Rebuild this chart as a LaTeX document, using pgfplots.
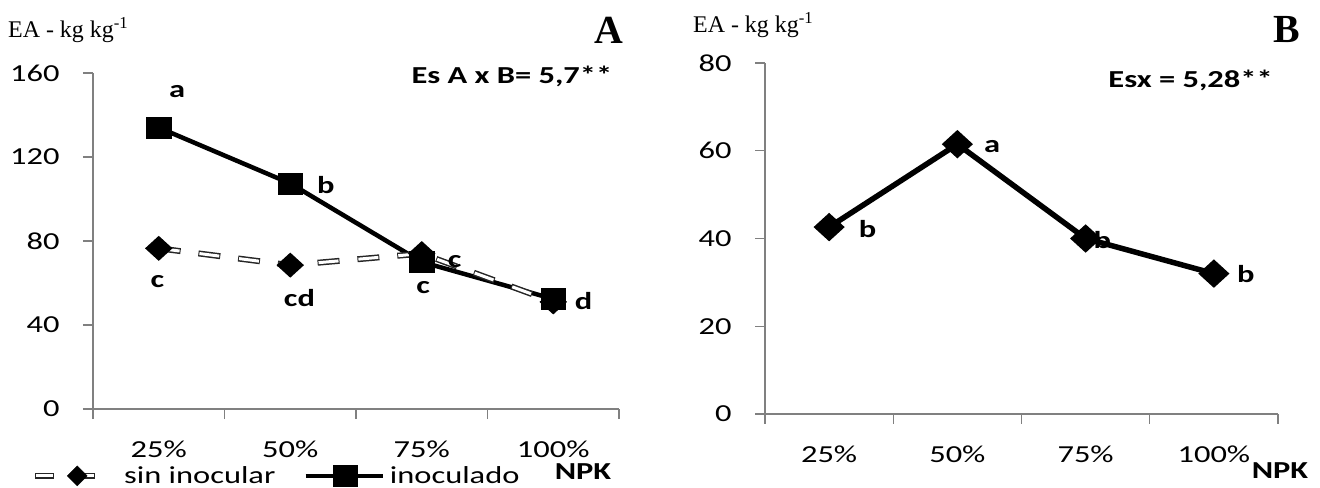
\documentclass[border=0pt]{standalone}
\usepackage{pgfplots}
\pgfplotsset{compat=1.18}
\usepackage{fontspec}
\setmainfont{Carlito}[FakeStretch=1.33]
\newfontfamily\timesf{Liberation Serif}
\newcommand{\fs}{\fontsize{24.5}{29}\selectfont}
\begin{document}
\begin{tikzpicture}
\pgfplotsset{
  excel/.style={
    scale only axis,
    axis x line*=bottom, axis y line*=left,
    axis line style={draw=black!50, line width=1.3bp},
    every tick/.style={draw=black!50, line width=1.3bp},
    tick align=outside,
    major tick length=10bp,
    xmin=0, xmax=4, xtick={0,1,2,3,4},
    xticklabels={25\%,50\%,75\%,100\%},
    x tick label as interval,
    ymin=0,
    tick label style={font=\fs, text=black},
    xticklabel style={yshift=-18bp},
    yticklabel style={xshift=-20bp},
    /pgf/number format/assume math mode=true,
    clip=false,
  }
}
% ---------------- Panel A ----------------
\begin{axis}[excel, at={(93bp,79bp)}, anchor=south west, width=526bp, height=336bp,
  ymax=160, ytick={0,40,80,120,160},
  legend columns=-1,
  legend style={at={(-0.116,-0.199)}, anchor=west, draw=none, fill=none, inner sep=0pt,
    font=\fs, nodes={inner sep=0pt},
    /tikz/column 1/.style={column sep=26bp},
    /tikz/column 2/.style={column sep=28bp},
    /tikz/column 3/.style={column sep=5bp}},
  ]
\addplot[black, line width=4.5bp, forget plot] coordinates {(0.5,134) (1.5,107.4) (2.5,70) (3.5,52.4)};
\addplot[black!85, line width=6bp, dash pattern=on 22bp off 18bp, forget plot] coordinates {(0.5,76.5) (1.5,68.5) (2.5,74) (3.5,51)};
\addplot[white, line width=3bp, dash pattern=on 20bp off 20bp, dash phase=39bp, mark=diamond*, mark size=10.5bp, mark options={solid, draw=black, fill=black, xscale=1.46}, forget plot] coordinates {(0.5,76.5) (1.5,68.5) (2.5,74) (3.5,51)};
\addplot[only marks, mark=square*, mark size=10.5bp, mark options={draw=black, fill=black, xscale=1.18}, forget plot] coordinates {(0.5,134) (1.5,107.4) (2.5,70) (3.5,52.4)};
\addlegendimage{legend image code/.code={
  \draw[black!85, line width=6bp] (0bp,0bp) -- (19bp,0bp);
  \draw[white, line width=3bp] (1bp,0bp) -- (18bp,0bp);
  \draw[black!85, line width=6bp] (48bp,0bp) -- (60bp,0bp);
  \draw[white, line width=3bp] (49bp,0bp) -- (59bp,0bp);
  \fill[black] (42bp,10bp) -- (52bp,0bp) -- (42bp,-10bp) -- (32bp,0bp) -- cycle;
}}
\addlegendentry{sin inocular}
\addlegendimage{legend image code/.code={
  \draw[black, line width=4.5bp] (0bp,0bp) -- (77bp,0bp);
  \fill[black] (27bp,-10.5bp) rectangle (51bp,10.5bp);
}}
\addlegendentry{inoculado}
\node[font=\fs\bfseries] at (axis cs:0.64,151) {a};
\node[font=\fs\bfseries] at (axis cs:1.77,106.7) {b};
\node[font=\fs\bfseries] at (axis cs:0.49,60.5) {c};
\node[font=\fs\bfseries] at (axis cs:1.57,52.9) {cd};
\node[font=\fs\bfseries] at (axis cs:2.51,58) {c};
\node[font=\fs\bfseries] at (axis cs:2.75,70) {c};
\node[font=\fs\bfseries] at (axis cs:3.73,51.4) {d};
\node[font=\fs\bfseries, anchor=east, inner sep=0] at (axis cs:3.95,158.6) {Es A x B= 5,7**};
\end{axis}
% ---------------- Panel B ----------------
\begin{axis}[excel, at={(765bp,74bp)}, anchor=south west, width=513bp, height=351bp,
  ymax=80, ytick={0,20,40,60,80}]
\addplot[black, line width=5.5bp, mark=diamond*, mark size=10.5bp, mark options={solid, xscale=1.46}] coordinates {(0.5,42.6) (1.5,61.5) (2.5,40) (3.5,32)};
\node[font=\fs\bfseries] at (axis cs:1.77,61) {a};
\node[font=\fs\bfseries] at (axis cs:0.8,42.1) {b};
\node[font=\fs\bfseries] at (axis cs:2.63,39.6) {b};
\node[font=\fs\bfseries] at (axis cs:3.75,31.9) {b};
\node[font=\fs\bfseries, anchor=east, inner sep=0] at (axis cs:3.96,76) {Esx = 5,28**};
\end{axis}
% ---------------- texts ----------------
\node[anchor=west, font=\timesf\fontsize{24}{28}\selectfont, inner sep=0] at (8bp,458bp) {EA - kg kg\textsuperscript{-1}};
\node[font=\timesf\fontsize{40}{44}\selectfont\bfseries, inner sep=0] at (609bp,458bp) {A};
\node[anchor=west, font=\timesf\fontsize{24}{28}\selectfont, inner sep=0] at (693bp,463bp) {EA - kg kg\textsuperscript{-1}};
\node[font=\timesf\fontsize{40}{44}\selectfont\bfseries, inner sep=0] at (1287bp,458bp) {B};
\node[font=\fs\bfseries, inner sep=0] at (583bp,16bp) {NPK};
\node[font=\fs\bfseries, inner sep=0] at (1280bp,17bp) {NPK};
\pgfresetboundingbox
\useasboundingbox (0bp,0bp) rectangle (1320bp,488bp);
\end{tikzpicture}
\end{document}
